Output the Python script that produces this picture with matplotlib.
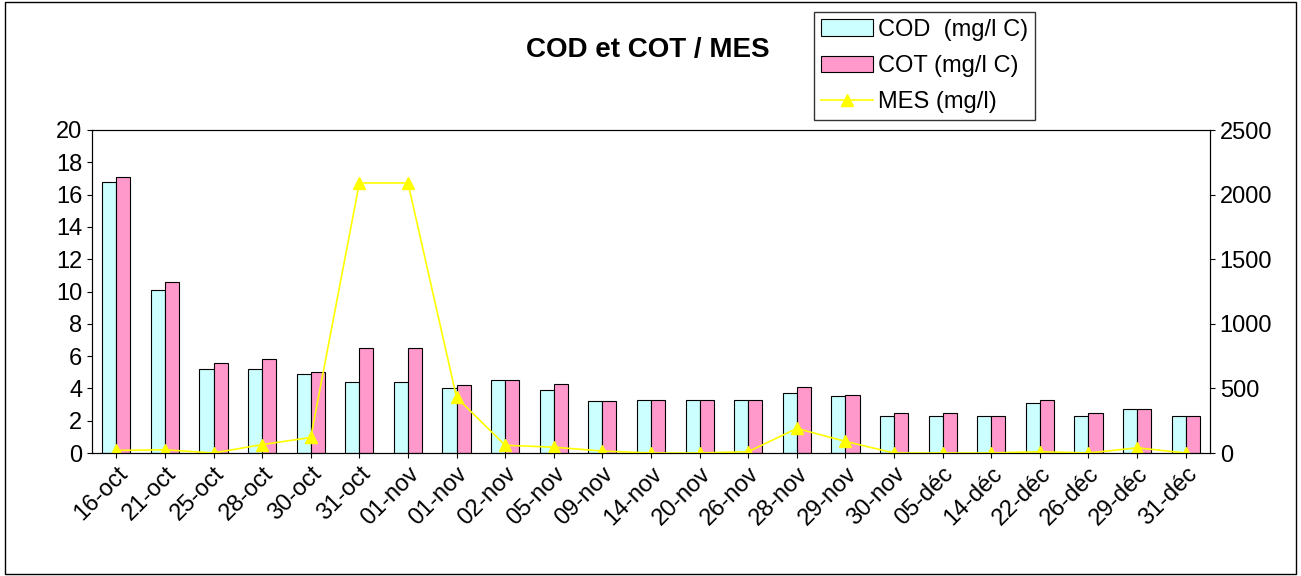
import numpy as np
import matplotlib.pyplot as plt
from matplotlib.patches import Rectangle

dates = ["16-oct", "21-oct", "25-oct", "28-oct", "30-oct", "31-oct", "01-nov", "01-nov",
         "02-nov", "05-nov", "09-nov", "14-nov", "20-nov", "26-nov", "28-nov", "29-nov",
         "30-nov", "05-déc", "14-déc", "22-déc", "26-déc", "29-déc", "31-déc"]
cod = [16.8, 10.1, 5.2, 5.2, 4.9, 4.4, 4.4, 4.0, 4.5, 3.9, 3.2, 3.3, 3.3, 3.3, 3.7, 3.5,
       2.3, 2.3, 2.3, 3.1, 2.3, 2.7, 2.3]
cot = [17.1, 10.6, 5.6, 5.8, 5.0, 6.5, 6.5, 4.2, 4.5, 4.3, 3.2, 3.3, 3.3, 3.3, 4.1, 3.6,
       2.5, 2.5, 2.3, 3.3, 2.5, 2.7, 2.3]
mes = [20, 25, 0, 65, 120, 2090, 2090, 430, 60, 45, 15, 0, 0, 10, 190, 90,
       0, 0, 0, 10, 0, 40, 0]

plt.rcParams['font.family'] = ['Liberation Sans', 'DejaVu Sans']
fig = plt.figure(figsize=(13.01, 5.76), dpi=100)
fig.patches.append(Rectangle((0.004, 0.004), 0.992, 0.992, transform=fig.transFigure,
                             fill=False, edgecolor='black', lw=1))
ax = fig.add_axes([92/1301, 1-453/576, (1210-92)/1301, (453-130)/576])
x = np.arange(len(dates))
w = 0.29
b1 = ax.bar(x - w/2, cod, w, color='#ccffff', edgecolor='black', lw=0.8, label='COD  (mg/l C)')
b2 = ax.bar(x + w/2, cot, w, color='#ff99cc', edgecolor='black', lw=0.8, label='COT (mg/l C)')
ax.set_ylim(0, 20)
ax.set_yticks(range(0, 21, 2))
ax.set_xlim(-0.5, len(dates) - 0.5)
ax.set_xticks(x)
ax.set_xticklabels(dates, rotation=45, ha='right', rotation_mode='anchor', fontsize=17)
ax.tick_params(axis='y', labelsize=17)
ax2 = ax.twinx()
l1, = ax2.plot(x, mes, color='yellow', marker='^', markersize=9, lw=1.2, label='MES (mg/l)')
ax2.set_ylim(0, 2500)
ax2.set_yticks(range(0, 2501, 500))
ax2.tick_params(axis='y', labelsize=17)
fig.text(648/1301, 1-50/576, "COD et COT / MES", ha='center', va='center',
         fontsize=20, fontweight='bold')
leg = fig.legend(handles=[b1, b2, l1], loc='upper left', bbox_to_anchor=(802/1301, 1.0),
                 fontsize=17, frameon=True, fancybox=False, edgecolor='black',
                 borderpad=0.3, handlelength=2.2, labelspacing=0.6, handletextpad=0.2)
leg.get_frame().set_linewidth(1)
fig.savefig("out.png", dpi=100)
